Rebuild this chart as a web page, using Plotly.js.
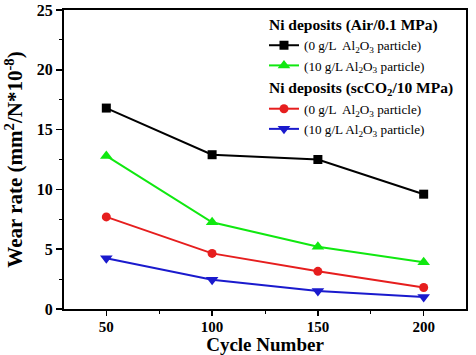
<!DOCTYPE html>
<html><head><meta charset="utf-8">
<script src="https://cdn.plot.ly/plotly-3.0.1.min.js"></script>
<style>html,body{margin:0;padding:0;background:#fff;}#chart{width:476px;height:355px;}</style>
</head><body><div id="chart"></div>
<script>
const cycles = [50, 100, 150, 200];
const airNoParticle = [16.8, 12.9, 12.5, 9.6];
const airParticle = [12.8, 7.25, 5.2, 3.9];
const scNoParticle = [7.7, 4.65, 3.15, 1.8];
const scParticle = [4.25, 2.45, 1.5, 1.0];
const seriesNames = ["(0 g/L  Al<sub>2</sub>O<sub>3</sub> particle)", "(10 g/L Al<sub>2</sub>O<sub>3</sub> particle)", "(0 g/L  Al<sub>2</sub>O<sub>3</sub> particle)", "(10 g/L Al<sub>2</sub>O<sub>3</sub> particle)"];
const groupTitles = ["Ni deposits (Air/0.1 MPa)", "Ni deposits (scCO<sub>2</sub>/10 MPa)"];
const xTicks = [50, 100, 150, 200];
const yTicks = [0, 5, 10, 15, 20, 25];

const font = "Liberation Serif, Times New Roman, serif";
function tr(y, name, color, symbol, size, group, gtitle) {
  const t = {x: cycles, y: y, name: name, type: 'scatter', mode: 'lines+markers',
    line: {color: color, width: 2}, marker: {color: color, symbol: symbol, size: size},
    legendgroup: group};
  if (gtitle) t.legendgrouptitle = {text: gtitle, font: {family: font, size: 15.5, color: '#000', weight: 'bold'}};
  return t;
}
const data = [
  tr(airNoParticle, seriesNames[0], '#000000', 'square', 9, 'air', groupTitles[0]),
  tr(airParticle, seriesNames[1], '#10e810', 'triangle-up', 11, 'air', groupTitles[0]),
  tr(scNoParticle, seriesNames[2], '#e61e1e', 'circle', 9, 'sc', groupTitles[1]),
  tr(scParticle, seriesNames[3], '#1a1acd', 'triangle-down', 11, 'sc', groupTitles[1])
];
const axisCommon = {showgrid: false, zeroline: false, showline: true, linecolor: '#000', linewidth: 2,
  mirror: true, ticks: 'outside', tickcolor: '#000', tickwidth: 1.5, ticklen: 6,
  tickfont: {family: font, size: 16, color: '#000', weight: 'bold'},
  minor: {ticks: 'outside', ticklen: 3, tickcolor: '#000', tickwidth: 1}};
const layout = {
  width: 476, height: 355,
  margin: {l: 64, r: 10, t: 10, b: 46, autoexpand: false},
  paper_bgcolor: '#fff', plot_bgcolor: '#fff',
  showlegend: true,
  legend: {x: 0.995, xanchor: 'right', y: 1.01, yanchor: 'top', bgcolor: 'rgba(0,0,0,0)',
    font: {family: font, size: 13.2, color: '#000'}, tracegroupgap: 0, itemwidth: 30, traceorder: 'grouped'},
  xaxis: Object.assign({}, axisCommon, {range: [30, 220], tickvals: xTicks, ticktext: xTicks.map(String),
    tickfont: {family: font, size: 15, color: '#000', weight: 'bold'}, ticklen: 5, ticklabelstandoff: -2,
    minor: Object.assign({}, axisCommon.minor, {tickvals: [75, 125, 175]}),
    title: {text: 'Cycle Number', font: {family: font, size: 19, color: '#000', weight: 'bold'}, standoff: 0}}),
  yaxis: Object.assign({}, axisCommon, {range: [0, 25], tickvals: yTicks, ticktext: yTicks.map(String),
    minor: Object.assign({}, axisCommon.minor, {tickvals: [2.5, 7.5, 12.5, 17.5, 22.5]}),
    title: {text: 'Wear rate (mm<sup>2</sup>/N*10<sup>-8</sup>)', font: {family: font, size: 21, color: '#000', weight: 'bold'}, standoff: 8}})
};
Plotly.newPlot('chart', data, layout, {displayModeBar: false, staticPlot: true});
</script></body></html>
